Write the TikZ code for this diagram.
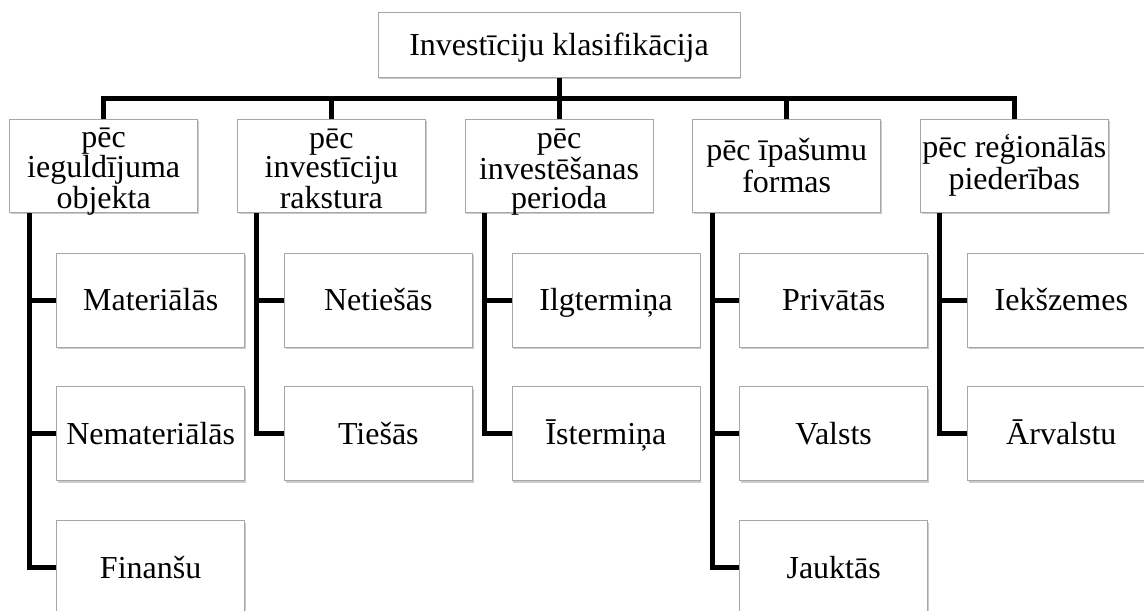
\documentclass[tikz,border=0pt]{standalone}
\usepackage{fontspec}
\setmainfont{Liberation Serif}
\usetikzlibrary{positioning}
\usetikzlibrary{shadows}
\usetikzlibrary{calc}

\begin{document}
\begin{tikzpicture}[font=\fontsize{24}{21.75}\selectfont,
                      node distance=29pt and 29pt,
                      box/.style={draw=black!35,fill=white,line width=.75pt,align=center,inner sep=1pt,
                                  drop shadow={shadow xshift=1pt,shadow yshift=-1.8pt,fill=black!45,opacity=.45}},
                      head/.style={box,minimum width=271.5pt,minimum height=48pt,text height=16pt,text depth=0pt},
                      cat/.style={box,minimum width=141pt,minimum height=69.75pt,text height=65.75pt,text depth=2pt},
                      wcat/.style={box,minimum width=141pt,minimum height=69.75pt,font=\fontsize{24}{24}\selectfont},
                      leaf/.style={box,minimum width=141pt,minimum height=70.5pt,text height=16pt,text depth=0pt},
                      conn/.style={line width=3.75pt},
                      ]
    \useasboundingbox (0,0) rectangle (858pt,-457.5pt);

    \node[head] (klas) at (419.25pt,-33.75pt) {Investīciju klasifikācija};

    % categories
    \node[cat,below=30.75pt of klas] (per) {pēc\\investēšanas\\perioda};
    \node[cat,left=of per] (rak) {pēc\\investīciju\\rakstura};
    \node[cat,left=of rak] (obj) {pēc\\ieguldījuma\\objekta};
    \node[wcat,right=of per] (ipas) {pēc īpašumu\\formas};
    \node[wcat,right=of ipas] (reg) {pēc reģionālās\\piederības};

    % leaves
    \node[leaf,below right=30pt and 35.25pt of obj.south west] (mat) {Materiālās};
    \node[leaf,below=of mat] (nemat) {Nemateriālās};
    \node[leaf,below=of nemat] (fin) {Finanšu};
    \node[leaf,below right=30pt and 35.25pt of rak.south west] (net) {Netiešās};
    \node[leaf,below=of net] (ties) {Tiešās};
    \node[leaf,below right=30pt and 35.25pt of per.south west] (ilg) {Ilgtermiņa};
    \node[leaf,below=of ilg] (ist) {Īstermiņa};
    \node[leaf,below right=30pt and 35.25pt of ipas.south west] (priv) {Privātās};
    \node[leaf,below=of priv] (valsts) {Valsts};
    \node[leaf,below=of valsts] (jauk) {Jauktās};
    \node[leaf,below right=30pt and 35.25pt of reg.south west] (iek) {Iekšzemes};
    \node[leaf,below=of iek] (arv) {Ārvalstu};

    % connectors
    \coordinate (bus) at ($(klas.south)!.5!(per.north)$);
    \draw[conn] (klas) -- (bus);
    \foreach \c in {obj,rak,per,ipas,reg}
      \draw[conn] (\c) |- (bus);
    \foreach \c/\l in {obj/fin,rak/ties,per/ist,ipas/jauk,reg/arv}
      \draw[conn] ([xshift=15pt]\c.south west) |- (\l);
    \foreach \l in {mat,nemat,net,ilg,priv,valsts,iek}
      \draw[conn] (\l.west) -- ++(-20.25pt,0);
\end{tikzpicture}
\end{document}
